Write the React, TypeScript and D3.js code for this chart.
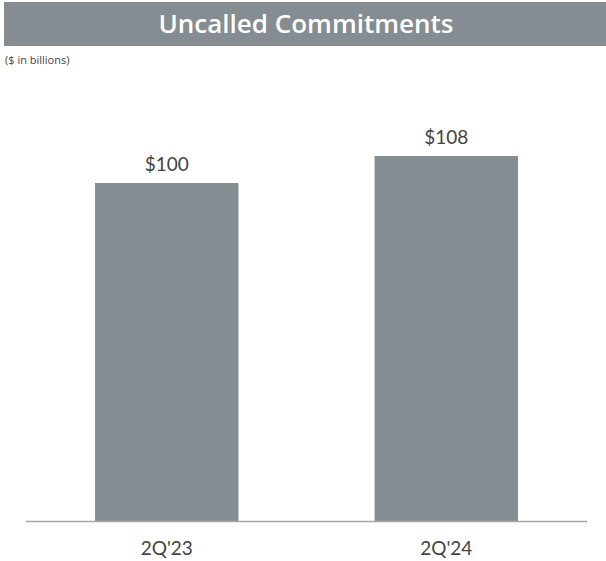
import React from 'react';
import * as d3 from 'd3';

const categories = ["2Q'23", "2Q'24"];
const values = [100, 108];
const valueLabels = ['$100', '$108'];

const W = 606;
const H = 561;
const BAR = '#868e93';

const App: React.FC = () => {
  const x = d3.scaleBand<string>()
    .domain(categories)
    .range([26, 587])
    .paddingInner(0.487)
    .paddingOuter(0.247);

  const y = d3.scaleLinear().domain([0, 150]).range([521, 14]);

  return (
    <svg width={W} height={H} style={{ position: 'absolute', left: 0, top: 0, fontFamily: 'Lato, "Open Sans", sans-serif' }}>
      {/* title bar */}
      <rect x={4} y={2} width={W - 4} height={44} fill="#858d92" />
      <text x={W / 2 + 3} y={33} textAnchor="middle" fill="#fff" fontSize={26} fontWeight={600}
        fontFamily='"Open Sans", sans-serif'>Uncalled Commitments</text>
      <text x={5} y={64} fontSize={11} fill="#444" fontFamily='"Open Sans", sans-serif'>($ in billions)</text>

      {categories.map((c, i) => (
        <g key={c}>
          <rect x={x(c)} y={y(values[i])} width={x.bandwidth()} height={y(0) - y(values[i])} fill={BAR} />
          <text x={(x(c) ?? 0) + x.bandwidth() / 2} y={y(values[i]) - 12} textAnchor="middle"
            fontSize={19} fill="#444">{valueLabels[i]}</text>
          <text x={(x(c) ?? 0) + x.bandwidth() / 2} y={555} textAnchor="middle"
            fontSize={19} fill="#444">{c}</text>
        </g>
      ))}

      <line x1={26} x2={587} y1={521.5} y2={521.5} stroke="#a6a6a6" strokeWidth={1.5} />
    </svg>
  );
};

export default App;
